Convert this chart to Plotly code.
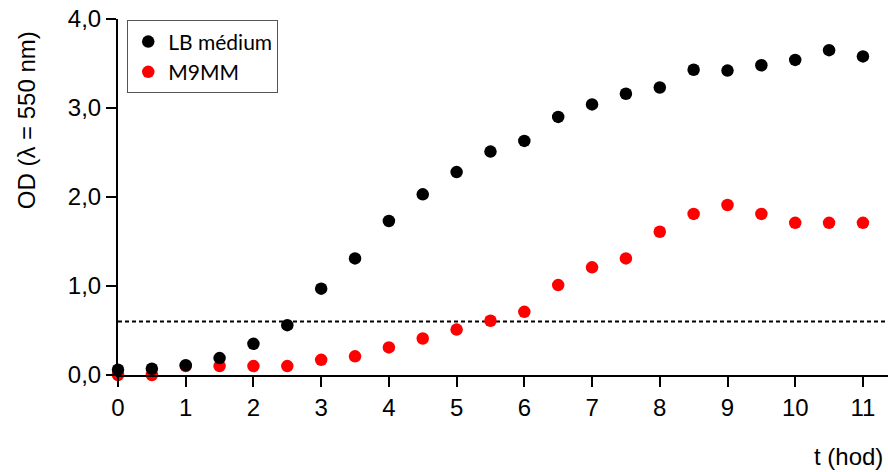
import plotly.graph_objects as go

time_h = [0, 0.5, 1, 1.5, 2, 2.5, 3, 3.5, 4, 4.5, 5, 5.5, 6, 6.5, 7, 7.5, 8, 8.5, 9, 9.5, 10, 10.5, 11]
od_lb = [0.06, 0.07, 0.11, 0.19, 0.35, 0.56, 0.97, 1.31, 1.73, 2.03, 2.28, 2.51, 2.63, 2.90, 3.04, 3.16, 3.23, 3.43, 3.42, 3.48, 3.54, 3.65, 3.58]
od_m9 = [0.0, 0.0, 0.10, 0.10, 0.10, 0.10, 0.17, 0.21, 0.31, 0.41, 0.51, 0.61, 0.71, 1.01, 1.21, 1.31, 1.61, 1.81, 1.91, 1.81, 1.71, 1.71, 1.71]
threshold = 0.6
x_ticks = list(range(0, 12))
y_ticks = [0, 1, 2, 3, 4]
y_tick_text = ["0,0", "1,0", "2,0", "3,0", "4,0"]

TICKFONT = dict(family="Liberation Sans, Arial, sans-serif", size=24, color="black")

fig = go.Figure()
fig.add_trace(go.Scatter(
    x=time_h, y=od_m9, mode="markers", name="M9MM", legendrank=2,
    marker=dict(color="#ff0000", size=12.5, line=dict(width=0)), cliponaxis=False,
))
fig.add_trace(go.Scatter(
    x=time_h, y=od_lb, mode="markers", name="LB médium", legendrank=1,
    marker=dict(color="black", size=12.5, line=dict(width=0)), cliponaxis=False,
))

fig.add_shape(type="line", xref="paper", x0=0, x1=1, yref="y", y0=threshold, y1=threshold,
              line=dict(color="black", width=2, dash="4px,3px"), layer="below")

fig.update_xaxes(
    range=[0, 11.37], tickvals=x_ticks, ticks="outside", ticklen=10, tickwidth=2, tickcolor="black",
    showline=True, linewidth=2, linecolor="black", showgrid=False, zeroline=False,
    tickfont=TICKFONT,
)
fig.update_yaxes(
    range=[0, 4.0], tickvals=y_ticks, ticktext=y_tick_text, ticks="outside", ticklen=10, tickwidth=2,
    tickcolor="black", showline=True, linewidth=2, linecolor="black", showgrid=False, zeroline=False,
    tickfont=TICKFONT,
)

fig.add_annotation(text="OD (λ = 550 nm)", xref="paper", yref="paper", x=-0.1195, y=0.7155,
                   textangle=-90, showarrow=False, xanchor="center", yanchor="middle", font=TICKFONT)
fig.add_annotation(text="t (hod)", xref="paper", yref="paper", x=0.996, y=-0.230,
                   showarrow=False, xanchor="right", yanchor="middle", font=TICKFONT)

fig.update_layout(
    width=888, height=472,
    margin=dict(l=118, r=0, t=18.6, b=97),
    plot_bgcolor="white", paper_bgcolor="white",
    showlegend=True,
    legend=dict(x=0.012, y=0.996, xanchor="left", yanchor="top",
                bordercolor="#555555", borderwidth=1, bgcolor="white",
                font=dict(family="Lato, Open Sans, sans-serif", size=21, color="black"),
                itemwidth=30, tracegroupgap=0),
)

fig.write_html("out.html")
